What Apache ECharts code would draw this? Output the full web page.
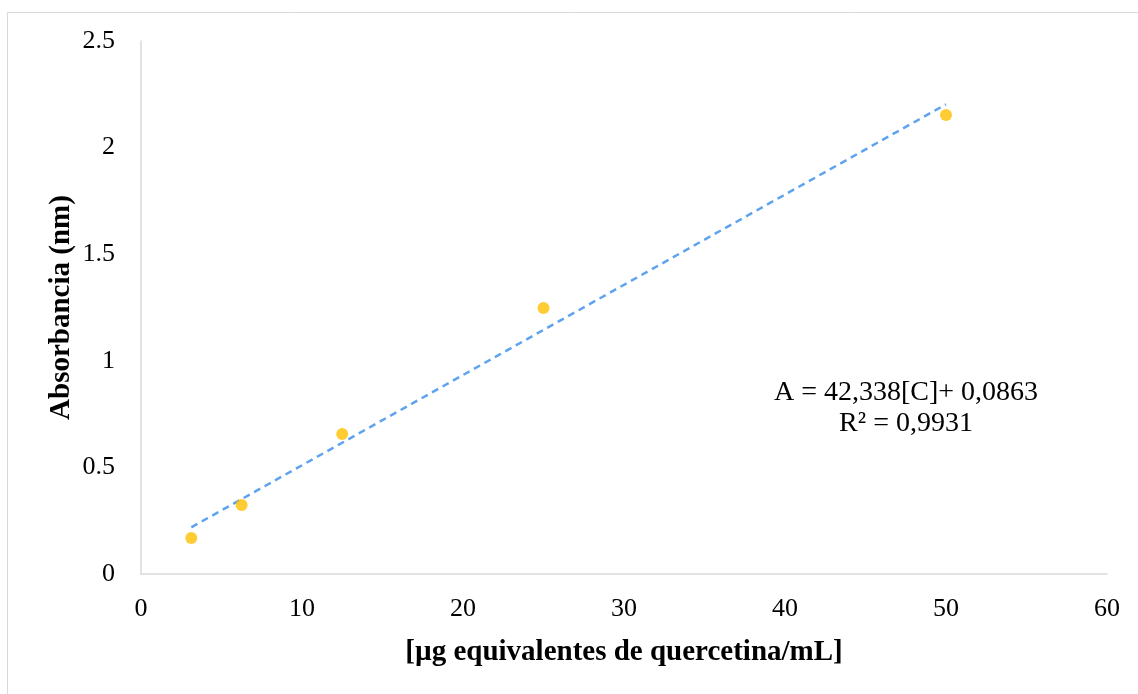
<!DOCTYPE html>
<html>
<head>
<meta charset="utf-8">
<script src="https://cdn.jsdelivr.net/npm/echarts@6/dist/echarts.min.js"></script>
<style>
  html, body { margin: 0; padding: 0; background: #fff; }
  #chart { width: 1138px; height: 694px; }
</style>
</head>
<body>
<div id="chart"></div>
<script>
// concentration (µg/mL) and measured absorbance
const concentrations = [3.125, 6.25, 12.5, 25, 50];
const absorbances = [0.169, 0.324, 0.657, 1.248, 2.153];
// linear trendline end points
const trendX = [3.125, 50];
const trendY = [0.219, 2.203];
const xTicks = [0, 10, 20, 30, 40, 50, 60];
const yTicks = [0, 0.5, 1, 1.5, 2, 2.5];

const FONT = '"Liberation Serif", "DejaVu Serif", serif';

const chart = echarts.init(document.getElementById('chart'));

chart.setOption({
  animation: false,
  textStyle: { fontFamily: FONT },
  grid: { left: 141, top: 41, right: 31, bottom: 120 },
  xAxis: {
    type: 'value',
    min: xTicks[0],
    max: xTicks[xTicks.length - 1],
    interval: 10,
    name: '[µg equivalentes de quercetina/mL]',
    nameLocation: 'middle',
    nameGap: 64,
    nameTextStyle: { fontFamily: FONT, fontSize: 29, fontWeight: 'bold', color: '#000' },
    axisLine: { lineStyle: { color: '#d9d9d9', width: 1.5 } },
    axisTick: { show: false },
    splitLine: { show: false },
    axisLabel: { fontFamily: FONT, fontSize: 26, color: '#000', margin: 22 }
  },
  yAxis: {
    type: 'value',
    min: yTicks[0],
    max: yTicks[yTicks.length - 1],
    interval: 0.5,
    name: 'Absorbancia (nm)',
    nameLocation: 'middle',
    nameGap: 65,
    nameMoveOverlap: false,
    nameTextStyle: { fontFamily: FONT, fontSize: 29, fontWeight: 'bold', color: '#000' },
    axisLine: { show: true, lineStyle: { color: '#d9d9d9', width: 1.5 } },
    axisTick: { show: false },
    splitLine: { show: false },
    axisLabel: { fontFamily: FONT, fontSize: 26, color: '#000', margin: 26 }
  },
  graphic: [
    {
      type: 'polyline',
      shape: { points: [[7.5, 694], [7.5, 12.5], [1138, 12.5]] },
      style: { fill: null, stroke: '#d9d9d9', lineWidth: 1 },
      silent: true
    },
    {
      type: 'text',
      x: 906, y: 377,
      style: {
        text: 'A = 42,338[C]+ 0,0863\nR² = 0,9931',
        font: '28px ' + FONT,
        fill: '#000',
        align: 'center',
        lineHeight: 31
      }
    }
  ],
  series: [
    {
      name: 'Lineal',
      type: 'line',
      data: trendX.map((x, i) => [x, trendY[i]]),
      showSymbol: false,
      lineStyle: { color: '#5ea3f0', width: 2.5, type: [7, 5] },
      z: 2
    },
    {
      name: 'Absorbancia',
      type: 'scatter',
      data: concentrations.map((x, i) => [x, absorbances[i]]),
      symbolSize: 12,
      itemStyle: { color: '#ffc000' },
      z: 3
    }
  ]
});
</script>
</body>
</html>
